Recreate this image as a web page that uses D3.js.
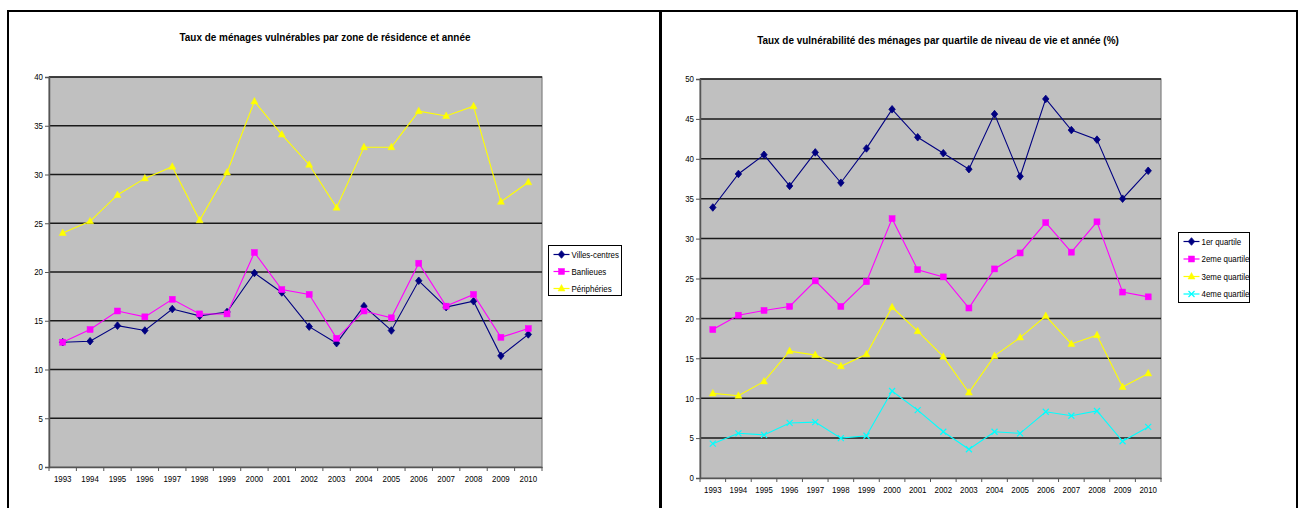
<!DOCTYPE html>
<html><head><meta charset="utf-8">
<script src="https://cdn.jsdelivr.net/npm/d3@7"></script>
<style>
html,body{margin:0;padding:0;background:#fff;}
svg{display:block;font-family:"Liberation Sans",Arial,sans-serif;}
</style></head>
<body>
<svg id="c" width="1300" height="508"></svg>
<script>
const years = [1993,1994,1995,1996,1997,1998,1999,2000,2001,2002,2003,2004,2005,2006,2007,2008,2009,2010];

// Left chart
const villesCentres = [12.8,12.9,14.5,14.0,16.2,15.5,15.9,19.9,17.9,14.4,12.7,16.5,14.0,19.1,16.4,17.0,11.4,13.6];
const banlieues     = [12.8,14.1,16.0,15.4,17.2,15.7,15.7,22.0,18.2,17.7,13.2,16.0,15.3,20.9,16.5,17.7,13.3,14.2];
const peripheries   = [24.0,25.2,27.9,29.6,30.8,25.3,30.2,37.5,34.1,31.0,26.6,32.8,32.8,36.5,36.0,37.0,27.2,29.2];

// Right chart
const quartile1 = [33.9,38.1,40.5,36.6,40.8,37.0,41.3,46.2,42.7,40.7,38.7,45.6,37.8,47.5,43.6,42.4,35.0,38.5];
const quartile2 = [18.6,20.4,21.0,21.5,24.7,21.5,24.6,32.5,26.1,25.2,21.3,26.2,28.2,32.0,28.3,32.1,23.3,22.7];
const quartile3 = [10.6,10.3,12.1,15.9,15.4,14.0,15.5,21.4,18.4,15.2,10.7,15.3,17.6,20.3,16.8,17.9,11.4,13.1];
const quartile4 = [4.3,5.6,5.4,6.9,7.0,5.0,5.3,10.9,8.5,5.8,3.6,5.8,5.6,8.3,7.8,8.4,4.6,6.4];

const leftTitle = "Taux de ménages vulnérables par zone de résidence et année";
const rightTitle = "Taux de vulnérabilité des ménages par quartile de niveau de vie et année (%)";
const leftNames = ["Villes-centres","Banlieues","Périphéries"];
const rightNames = ["1er quartile","2eme quartile","3eme quartile","4eme quartile"];
const leftTicks = [0,5,10,15,20,25,30,35,40];
const rightTicks = [0,5,10,15,20,25,30,35,40,45,50];

const colors = {navy:"#000080", magenta:"#FF00FF", yellow:"#FFFF00", cyan:"#00FFFF"};

const svg = d3.select("#c");

// frames
svg.append("rect").attr("x",8).attr("y",11).attr("width",1289).attr("height",520)
  .attr("fill","none").attr("stroke","#000").attr("stroke-width",2);
svg.append("line").attr("x1",660.5).attr("x2",660.5).attr("y1",11).attr("y2",508)
  .attr("stroke","#000").attr("stroke-width",3);

function marker(g, type, color, x, y){
  if(type==="diamond"){
    g.append("path").attr("d",`M${x},${y-3.8}L${x+3.2},${y}L${x},${y+3.8}L${x-3.2},${y}Z`)
      .attr("fill",color).attr("stroke",color).attr("stroke-width",0.8);
  } else if(type==="square"){
    g.append("rect").attr("x",x-3).attr("y",y-3).attr("width",6).attr("height",6)
      .attr("fill",color).attr("stroke",color).attr("stroke-width",0.5);
  } else if(type==="triangle"){
    g.append("path").attr("d",`M${x},${y-4}L${x+3.5},${y+2.5}L${x-3.5},${y+2.5}Z`)
      .attr("fill",color).attr("stroke",color).attr("stroke-width",0.5);
  } else if(type==="x"){
    g.append("path").attr("d",`M${x-3},${y-3}L${x+3},${y+3}M${x-3},${y+3}L${x+3},${y-3}`)
      .attr("stroke",color).attr("stroke-width",1.2).attr("fill","none");
  }
}

function chart(cfg){
  const g = svg.append("g");
  const x = d3.scaleBand().domain(years).range([cfg.x0,cfg.x1]);
  const y = d3.scaleLinear().domain([0,cfg.ymax]).range([cfg.y1,cfg.y0]);

  g.append("rect").attr("x",cfg.x0).attr("y",cfg.y0).attr("width",cfg.x1-cfg.x0).attr("height",cfg.y1-cfg.y0)
    .attr("fill","#C0C0C0").attr("stroke","#808080").attr("stroke-width",1.2);

  // gridlines
  g.append("g").selectAll("line").data(cfg.ticks.filter(t=>t>0)).join("line")
    .attr("x1",cfg.x0).attr("x2",cfg.x1).attr("y1",d=>y(d)).attr("y2",d=>y(d))
    .attr("stroke","#1a1a1a").attr("stroke-width",1.5);

  // y axis
  const ya = g.append("g").attr("transform",`translate(${cfg.x0},0)`)
    .call(d3.axisLeft(y).tickValues(cfg.ticks).tickSize(4).tickPadding(2).tickFormat(d3.format("d")));
  ya.select(".domain").attr("stroke","#555").attr("stroke-width",1.5);
  ya.selectAll(".tick line").attr("stroke","#555");
  ya.selectAll("text").attr("font-size",9).attr("fill","#000").attr("font-family","Liberation Sans, Arial").attr("class","cmp");

  // x axis
  const xa = g.append("g").attr("transform",`translate(0,${cfg.y1})`)
    .call(d3.axisBottom(x).tickSize(0).tickPadding(cfg.xpad));
  xa.select(".domain").attr("stroke","#555").attr("stroke-width",1.5);
  xa.selectAll("text").attr("font-size",9).attr("fill","#000").attr("font-family","Liberation Sans, Arial").attr("class","cmp");
  // boundary ticks
  const bounds = years.map(d=>x(d)).concat([cfg.x1]);
  g.append("g").selectAll("line").data(bounds).join("line")
    .attr("x1",d=>d).attr("x2",d=>d).attr("y1",cfg.y1).attr("y2",cfg.y1+4)
    .attr("stroke","#555").attr("stroke-width",1);

  // series
  const cx = d => x(d)+x.bandwidth()/2;
  cfg.series.forEach(s=>{
    const line = d3.line().x((d,i)=>cx(years[i])).y(d=>y(d));
    g.append("path").datum(s.values).attr("d",line).attr("fill","none")
      .attr("stroke",s.color).attr("stroke-width",1.1);
    s.values.forEach((v,i)=>marker(g,s.marker,s.color,cx(years[i]),y(v)));
  });

  // title
  g.append("text").attr("x",cfg.tx).attr("y",cfg.ty).attr("text-anchor","middle")
    .attr("font-size",11.3).attr("font-weight","bold").attr("class","cmp").text(cfg.title);

  // legend
  const L = cfg.legend;
  g.append("rect").attr("x",L.x).attr("y",L.y).attr("width",L.w).attr("height",L.h)
    .attr("fill","#fff").attr("stroke","#000").attr("stroke-width",1);
  cfg.series.forEach((s,i)=>{
    const ly = L.y + L.first + i*L.step;
    g.append("line").attr("x1",L.x+5).attr("x2",L.x+21).attr("y1",ly).attr("y2",ly)
      .attr("stroke",s.color).attr("stroke-width",1.2);
    marker(g,s.marker,s.color,L.x+13,ly);
    g.append("text").attr("x",L.x+23).attr("y",ly+3.3).attr("font-size",9).attr("class","cmp").text(s.name);
  });
}

chart({
  x0:49, x1:542, y0:77, y1:467, ymax:40, ticks:leftTicks, xpad:9,
  title:leftTitle, tx:325, ty:41,
  legend:{x:548.5,y:245.5,w:73,h:50,first:9,step:17},
  series:[
    {name:leftNames[0], values:villesCentres, color:colors.navy, marker:"diamond"},
    {name:leftNames[1], values:banlieues, color:colors.magenta, marker:"square"},
    {name:leftNames[2], values:peripheries, color:colors.yellow, marker:"triangle"}
  ]
});

chart({
  x0:700, x1:1161, y0:79, y1:478, ymax:50, ticks:rightTicks, xpad:9,
  title:rightTitle, tx:938, ty:44,
  legend:{x:1178.5,y:232.5,w:71,h:70,first:9,step:17.5},
  series:[
    {name:rightNames[0], values:quartile1, color:colors.navy, marker:"diamond"},
    {name:rightNames[1], values:quartile2, color:colors.magenta, marker:"square"},
    {name:rightNames[2], values:quartile3, color:colors.yellow, marker:"triangle"},
    {name:rightNames[3], values:quartile4, color:colors.cyan, marker:"x"}
  ]
});

// horizontally condense text like the reference rendering
svg.selectAll("text.cmp").each(function(){
  const len = this.getComputedTextLength();
  d3.select(this).attr("textLength", (len*0.88).toFixed(1)).attr("lengthAdjust","spacingAndGlyphs");
});
</script>
</body></html>
